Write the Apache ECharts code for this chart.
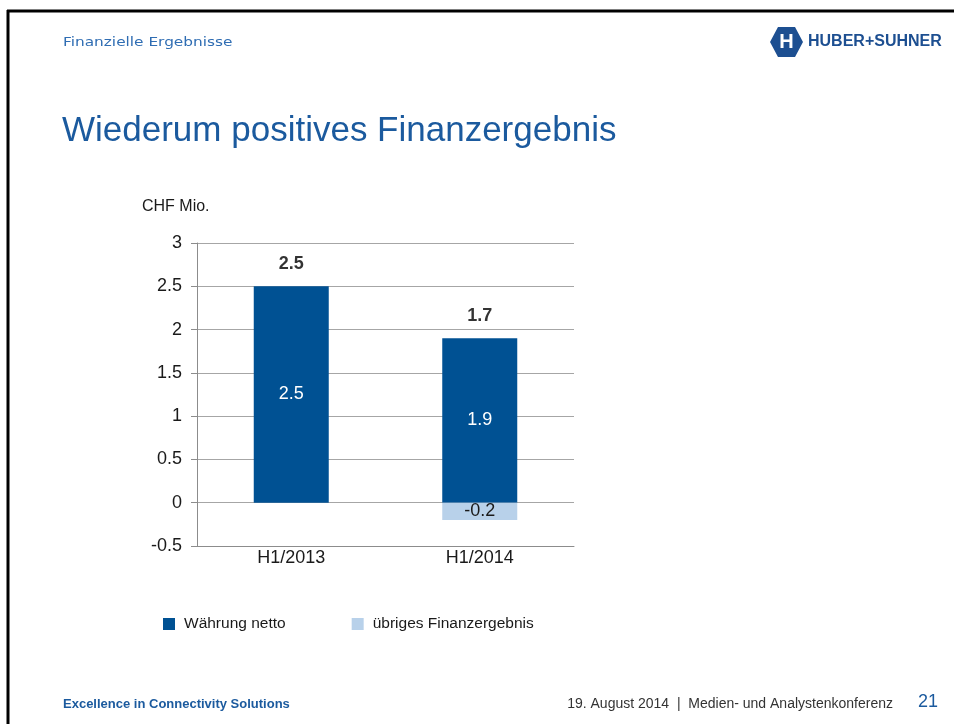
<!DOCTYPE html>
<html>
<head>
<meta charset="utf-8">
<title>Wiederum positives Finanzergebnis</title>
<script src="https://cdn.jsdelivr.net/npm/echarts@6/dist/echarts.min.js"></script>
<style>
  html, body { margin: 0; padding: 0; background: #fff; }
  #chart { width: 954px; height: 724px; }
</style>
</head>
<body>
<div id="chart"></div>
<script>
// Werte aus der Folie (CHF Mio.)
var categories = ['H1/2013', 'H1/2014'];
var waehrungNetto = [2.5, 1.9];
var uebrigesFinanz = [null, -0.2];
var totals = [2.5, 1.7];
var yTicks = { min: -0.5, max: 3, interval: 0.5 };

var blue = '#1b5a9e';
var fontArial = '"Liberation Sans", Arial, sans-serif';

// Summe über den positiven Teil des Stapels -> Position der Gesamtwert-Beschriftung
var totalAnchor = categories.map(function (c, i) {
    return [c, Math.max(0, waehrungNetto[i] || 0) + Math.max(0, uebrigesFinanz[i] || 0)];
});

var myChart = echarts.init(document.getElementById('chart'));

var option = {
    backgroundColor: '#fff',
    animation: false,
    textStyle: { fontFamily: fontArial },
    grid: {
        left: 197,
        right: 380,
        top: 243,
        bottom: 178
    },
    legend: {
        data: ['Währung netto', 'übriges Finanzergebnis'],
        left: 158,
        top: 611,
        itemWidth: 12,
        itemHeight: 12,
        itemGap: 66,
        icon: 'rect',
        textStyle: { color: '#1a1a1a', fontSize: 15.5, padding: [0, 0, 0, 4] },
        selectedMode: false
    },
    xAxis: {
        type: 'category',
        data: categories,
        axisLine: { onZero: false, lineStyle: { color: '#8c8c8c', width: 1 } },
        axisTick: { show: false },
        axisLabel: { color: '#1a1a1a', fontSize: 18, margin: 3 }
    },
    yAxis: {
        type: 'value',
        min: yTicks.min,
        max: yTicks.max,
        interval: yTicks.interval,
        axisLine: { show: true, lineStyle: { color: '#8c8c8c' } },
        axisTick: { show: true, length: 6, lineStyle: { color: '#8c8c8c' } },
        splitLine: { lineStyle: { color: '#a6a6a6', width: 1 } },
        axisLabel: { color: '#1a1a1a', fontSize: 18, margin: 15 }
    },
    series: [
        {
            name: 'Währung netto',
            type: 'bar',
            stack: 'fin',
            barWidth: 75,
            data: waehrungNetto,
            itemStyle: { color: '#005193' },
            label: {
                show: true,
                position: 'inside',
                color: '#fff',
                fontSize: 18
            }
        },
        {
            name: 'übriges Finanzergebnis',
            type: 'bar',
            stack: 'fin',
            barWidth: 75,
            data: uebrigesFinanz,
            itemStyle: { color: '#b8d1ea' },
            label: {
                show: true,
                position: 'inside',
                color: '#1a1a1a',
                fontSize: 18
            }
        },
        {
            name: 'Total',
            type: 'scatter',
            data: totalAnchor,
            symbolSize: 1,
            itemStyle: { color: 'rgba(0,0,0,0)' },
            silent: true,
            label: {
                show: true,
                position: 'top',
                distance: 13,
                fontSize: 18,
                fontWeight: 'bold',
                color: '#000',
                formatter: function (p) { return totals[p.dataIndex]; }
            }
        }
    ],
    graphic: [
        // Folienrahmen
        { type: 'line', shape: { x1: 8, y1: 10, x2: 8, y2: 724 }, style: { stroke: '#000', lineWidth: 3 } },
        { type: 'line', shape: { x1: 7, y1: 11, x2: 954, y2: 11 }, style: { stroke: '#000', lineWidth: 3 } },
        // Kopfzeile
        { type: 'text', x: 63, y: 43, scaleX: 1.18, style: { text: 'Finanzielle Ergebnisse', fill: '#2f6db3', font: '13px "DejaVu Sans", Verdana, sans-serif', verticalAlign: 'middle' } },
        // Logo
        { type: 'polygon', shape: { points: [[778, 27], [795, 27], [803, 42], [795, 57], [778, 57], [770, 42]] }, style: { fill: '#1d4f91' } },
        { type: 'text', x: 786.5, y: 42, style: { text: 'H', fill: '#fff', font: 'bold 20px ' + fontArial, align: 'center', verticalAlign: 'middle' } },
        { type: 'text', x: 808, y: 42, style: { text: 'HUBER+SUHNER', fill: '#1d4f91', font: '900 16px ' + fontArial, verticalAlign: 'middle' } },
        // Titel
        { type: 'text', x: 62, y: 131, style: { text: 'Wiederum positives Finanzergebnis', fill: blue, font: '35px ' + fontArial, verticalAlign: 'middle' } },
        // Einheit
        { type: 'text', x: 142, y: 207, style: { text: 'CHF Mio.', fill: '#1a1a1a', font: '16px ' + fontArial, verticalAlign: 'middle' } },
        // Fusszeile
        { type: 'text', x: 63, y: 704, style: { text: 'Excellence in Connectivity Solutions', fill: blue, font: 'bold 13px ' + fontArial, verticalAlign: 'middle' } },
        { type: 'text', x: 893, y: 704, style: { text: '19. August 2014  |  Medien- und Analystenkonferenz', fill: '#333', font: '14px ' + fontArial, align: 'right', verticalAlign: 'middle' } },
        { type: 'text', x: 938, y: 702, style: { text: '21', fill: blue, font: '18px ' + fontArial, align: 'right', verticalAlign: 'middle' } }
    ]
};

myChart.setOption(option);
</script>
</body>
</html>
